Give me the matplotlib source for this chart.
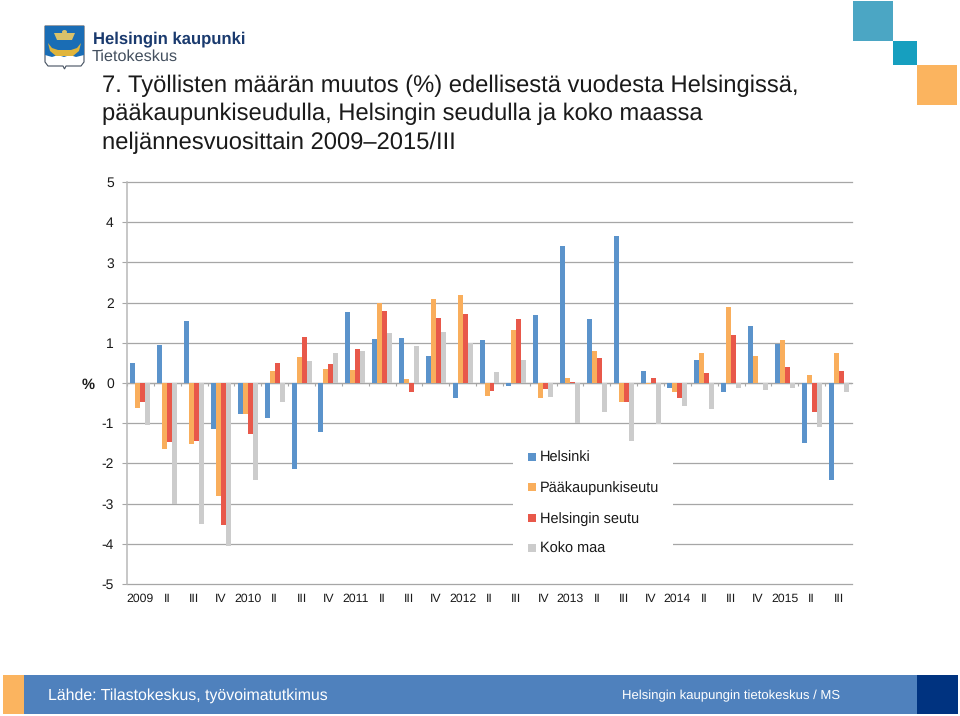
import matplotlib
matplotlib.use('Agg')
import matplotlib.pyplot as plt
from matplotlib.patches import Rectangle, Polygon, Ellipse
import numpy as np

plt.rcParams['font.family'] = ['Liberation Sans', 'DejaVu Sans']
plt.rcParams['text.hinting'] = 'no_hinting'

quarters = ['2009', 'II', 'III', 'IV', '2010', 'II', 'III', 'IV', '2011', 'II', 'III', 'IV', '2012', 'II',
            'III', 'IV', '2013', 'II', 'III', 'IV', '2014', 'II', 'III', 'IV', '2015', 'II', 'III']

helsinki = [0.5, 0.94, 1.53, -1.15, -0.77, -0.86, -2.15, -1.22, 1.76, 1.1, 1.11, 0.68, -0.38, 1.08,
            -0.07, 1.69, 3.42, 1.6, 3.65, 0.29, -0.12, 0.56, -0.22, 1.43, 0.96, -1.5, -2.42]
pk_seutu = [-0.62, -1.64, -1.52, -2.8, -0.77, 0.3, 0.65, 0.36, 0.33, 1.99, 0.09, 2.1, 2.19, -0.32,
            1.31, -0.38, 0.13, 0.79, -0.48, -0.03, -0.23, 0.74, 1.88, 0.67, 1.08, 0.21, 0.74]
hki_seutu = [-0.48, -1.47, -1.45, -3.52, -1.27, 0.5, 1.15, 0.48, 0.85, 1.79, -0.23, 1.62, 1.72, -0.2,
             1.6, -0.15, 0.03, 0.62, -0.47, 0.13, -0.38, 0.25, 1.19, 0.0, 0.4, -0.71, 0.29]
koko_maa = [-1.05, -3.0, -3.5, -4.05, -2.41, -0.47, 0.55, 0.74, 0.8, 1.25, 0.92, 1.26, 1.0, 0.28,
            0.58, -0.34, -1.0, -0.72, -1.45, -1.02, -0.57, -0.65, -0.12, -0.18, -0.12, -1.09, -0.23]

series = [('Helsinki', helsinki, '#5b93cb'),
          ('Pääkaupunkiseutu', pk_seutu, '#f9ae5c'),
          ('Helsingin seutu', hki_seutu, '#e8584a'),
          ('Koko maa', koko_maa, '#cccccc')]

W, H = 960, 716
fig = plt.figure(figsize=(W / 100, H / 100), dpi=100)

# whole-figure layer in pixels for the slide decoration
bg = fig.add_axes([0, 0, 1, 1])
bg.set_xlim(0, W)
bg.set_ylim(H, 0)
bg.axis('off')

# corner squares
bg.add_patch(Rectangle((853, 1), 40, 40, color='#4ba6c4', lw=0))
bg.add_patch(Rectangle((893, 41), 24, 24, color='#169fbf', lw=0))
bg.add_patch(Rectangle((917, 65), 40, 40, color='#fbb45f', lw=0))

# footer
bg.add_patch(Rectangle((3, 675), 21, 39, color='#fbb45f', lw=0))
bg.add_patch(Rectangle((24, 675), 893, 39, color='#4f81bd', lw=0))
bg.add_patch(Rectangle((917, 675), 41, 39, color='#003380', lw=0))
bg.text(48, 695.5, 'Lähde: Tilastokeskus, työvoimatutkimus', color='white', fontsize=11.4, va='center')
bg.text(622, 696, 'Helsingin kaupungin tietokeskus / MS', color='white', fontsize=9.45, va='center')

# logo
bg.add_patch(Polygon([(45, 26), (84, 26), (84, 62), (81, 66), (66, 66), (64.5, 69), (63, 66), (48, 66), (45, 62)],
                     closed=True, fc='white', ec='#44505f', lw=0.8))
bg.add_patch(Polygon([(45, 26), (84, 26), (84, 55), (76, 57), (70, 55), (64, 57), (58, 55), (52, 57), (45, 55)],
                     closed=True, color='#1a6db5', lw=0))
bg.add_patch(Polygon([(48, 43), (52, 48), (58, 50), (71, 50), (77, 48), (81, 43), (79, 51), (73, 56), (56, 56), (50, 51)],
                     closed=True, color='#e0b53c', lw=0))
bg.add_patch(Polygon([(54, 33), (75, 33), (72, 40), (57, 40)], closed=True, color='#d9c26a', lw=0))
bg.add_patch(Ellipse((64.5, 32), 5, 4, color='#d9c26a', lw=0))
bg.text(93, 39, 'Helsingin kaupunki', color='#1a3a6e', fontsize=12, fontweight='bold', va='center')
bg.text(92, 57, 'Tietokeskus', color='#44505f', fontsize=11.7, va='center')

# title
title_lines = ['7. Työllisten määrän muutos (%) edellisestä vuodesta Helsingissä,',
               'pääkaupunkiseudulla, Helsingin seudulla ja koko maassa',
               'neljännesvuosittain 2009–2015/III']
for i, line in enumerate(title_lines):
    bg.text(102, 85.5 + i * 28.5, line, color='#1a1a1a', fontsize=17.1, va='center')

# chart axes, 0..27 across and -5..5 up
left, right, top, bottom = 127, 852, 182, 584
ax = fig.add_axes([left / W, 1 - bottom / H, (right - left) / W, (bottom - top) / H])
ax.patch.set_alpha(0)
ax.set_xlim(0, len(quarters))
ax.set_ylim(-5, 5)

x = np.arange(len(quarters))
bar_w = 0.186
for k, (name, vals, col) in enumerate(series):
    ax.bar(x + 0.5 + (k - 1.5) * bar_w, vals, bar_w, color=col, zorder=3)

ax.set_yticks(np.arange(-5, 6))
ax.set_yticklabels([str(v) for v in range(-5, 6)], fontsize=10)
ax.set_xticks(x + 0.5)
ax.set_xticklabels([])
ax.tick_params(axis='x', length=0)
ax.tick_params(axis='y', length=3.5, width=0.8, color='#a6a6a6', pad=6, labelcolor='#1a1a1a')
for pos, lab in zip(x + 0.5, quarters):
    ax.text(pos, -5.36, lab, ha='center', va='center', fontsize=8.8, color='#1a1a1a')
ax.grid(axis='y', color='#a6a6a6', lw=0.9, zorder=0)
ax.set_axisbelow(True)
for line in ax.get_ygridlines():
    line.set_clip_on(False)
for s in ['top', 'right', 'bottom']:
    ax.spines[s].set_visible(False)
ax.spines['left'].set_color('#b8b8b8')
ax.spines['left'].set_linewidth(1.1)

# zero line with its small ticks
ax.axhline(0, color='#a6a6a6', lw=0.9, zorder=2)
ax.vlines(np.arange(len(quarters) + 1), -0.08, 0, color='#a6a6a6', lw=0.8, zorder=2)

ax.text(-1.43, -0.06, '%', fontsize=10.5, fontweight='bold', ha='center', va='center', color='#1a1a1a')

# legend sits on a white block that cuts the grid lines
top_layer = fig.add_axes([0, 0, 1, 1])
top_layer.set_xlim(0, W)
top_layer.set_ylim(H, 0)
top_layer.axis('off')
top_layer.add_patch(Rectangle((513, 444), 160, 119, color='white', lw=0))
for i, (name, vals, col) in enumerate(series):
    y = 457 + i * 30.4
    top_layer.add_patch(Rectangle((528, y - 4), 8, 8, color=col, lw=0))
    top_layer.text(539.5, y + 1, name, fontsize=10.45, va='center', color='#1a1a1a')

fig.savefig('out.png', dpi=100)
